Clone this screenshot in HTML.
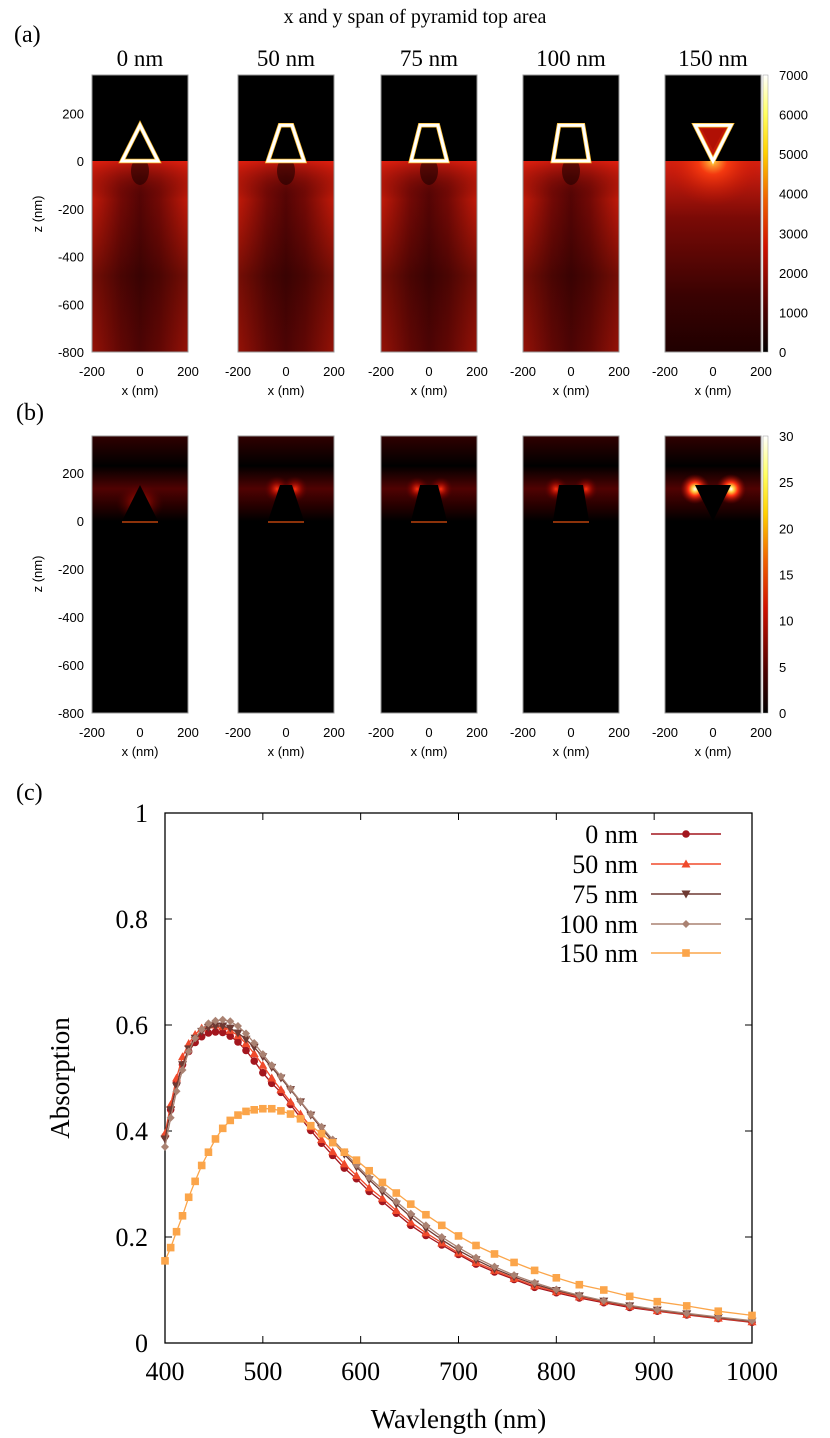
<!DOCTYPE html>
<html><head><meta charset="utf-8"><style>
html,body{margin:0;padding:0;background:#fff;}
svg{display:block;}
.serif{font-family:"Liberation Serif",serif;}
.sans{font-family:"Liberation Sans",sans-serif;}
</style></head><body>
<svg id="fig" width="830" height="1438" viewBox="0 0 830 1438" xmlns="http://www.w3.org/2000/svg">
<defs>
<linearGradient id="cbarA" x1="0" y1="1" x2="0" y2="0">
<stop offset="0" stop-color="#000"/><stop offset="0.15" stop-color="#4a0000"/><stop offset="0.38" stop-color="#d01000"/><stop offset="0.55" stop-color="#f06000"/><stop offset="0.72" stop-color="#ffd000"/><stop offset="0.86" stop-color="#ffff60"/><stop offset="1" stop-color="#fff"/>
</linearGradient>
<linearGradient id="subH" x1="0" y1="0" x2="1" y2="0">
<stop offset="0" stop-color="#d01c0a"/><stop offset="0.3" stop-color="#7a0a06"/><stop offset="0.5" stop-color="#580505"/><stop offset="0.7" stop-color="#7a0a06"/><stop offset="1" stop-color="#d01c0a"/>
</linearGradient>
<linearGradient id="subV" x1="0" y1="0" x2="0" y2="1">
<stop offset="0" stop-color="#e82010" stop-opacity="0.75"/><stop offset="0.2" stop-color="#300000" stop-opacity="0.1"/><stop offset="0.6" stop-color="#1a0000" stop-opacity="0.5"/><stop offset="1" stop-color="#3a0202" stop-opacity="0.4"/>
</linearGradient>
<linearGradient id="sub5" x1="0" y1="0" x2="0" y2="1">
<stop offset="0" stop-color="#d82010"/><stop offset="0.3" stop-color="#7a0a06"/><stop offset="0.7" stop-color="#3a0202"/><stop offset="1" stop-color="#200000"/>
</linearGradient>
<radialGradient id="glow5" cx="0.5" cy="0" r="0.5">
<stop offset="0" stop-color="#ffd040"/><stop offset="0.3" stop-color="#ff4010" stop-opacity="0.8"/><stop offset="1" stop-color="#c01000" stop-opacity="0"/>
</radialGradient>
<linearGradient id="airB" x1="0" y1="0" x2="0" y2="1">
<stop offset="0" stop-color="#300000"/><stop offset="0.35" stop-color="#000"/><stop offset="0.62" stop-color="#500202"/><stop offset="0.85" stop-color="#200000"/><stop offset="1" stop-color="#000"/>
</linearGradient>
<radialGradient id="spot" cx="0.5" cy="0.5" r="0.5">
<stop offset="0" stop-color="#ff3010"/><stop offset="0.5" stop-color="#a00800" stop-opacity="0.6"/><stop offset="1" stop-color="#500000" stop-opacity="0"/>
</radialGradient>
<radialGradient id="spotW" cx="0.5" cy="0.5" r="0.5">
<stop offset="0" stop-color="#fff"/><stop offset="0.2" stop-color="#ffd040"/><stop offset="0.45" stop-color="#ff3010"/><stop offset="1" stop-color="#800000" stop-opacity="0"/>
</radialGradient>
</defs>
<g id="heat"></g>
<g id="chart"></g>
</svg>
<script>
// ===== Panel (c) data =====
const wavelengths = [400,405.8,411.8,417.9,424.2,430.8,437.5,444.4,451.6,459,466.7,474.6,482.8,491.2,500,509.1,518.5,528.3,538.5,549,560,571.4,583.3,595.7,608.7,622.2,636.4,651.2,666.7,682.9,700,717.9,736.8,756.8,777.8,800,823.5,848.5,875,903.2,933.3,965.5,1000];
const series0 = [0.39,0.44,0.49,0.525,0.55,0.567,0.578,0.585,0.587,0.586,0.579,0.568,0.552,0.532,0.51,0.49,0.473,0.45,0.425,0.401,0.377,0.354,0.33,0.31,0.286,0.267,0.245,0.222,0.203,0.185,0.167,0.149,0.134,0.12,0.105,0.095,0.085,0.076,0.067,0.06,0.053,0.046,0.039];
const series50 = [0.395,0.45,0.5,0.54,0.565,0.582,0.594,0.6,0.6,0.597,0.59,0.58,0.565,0.546,0.524,0.5,0.478,0.455,0.432,0.408,0.384,0.361,0.338,0.316,0.293,0.273,0.25,0.228,0.208,0.189,0.17,0.152,0.137,0.122,0.108,0.097,0.087,0.078,0.069,0.061,0.054,0.047,0.04];
const series75 = [0.385,0.44,0.485,0.525,0.555,0.575,0.588,0.595,0.598,0.598,0.594,0.585,0.573,0.558,0.54,0.52,0.5,0.478,0.455,0.43,0.405,0.38,0.356,0.332,0.308,0.285,0.262,0.238,0.216,0.195,0.175,0.157,0.14,0.125,0.111,0.099,0.089,0.079,0.07,0.062,0.055,0.048,0.041];
const series100 = [0.37,0.425,0.475,0.515,0.55,0.575,0.592,0.603,0.608,0.61,0.607,0.598,0.584,0.566,0.545,0.524,0.503,0.48,0.456,0.432,0.408,0.384,0.36,0.336,0.312,0.29,0.267,0.244,0.222,0.2,0.18,0.161,0.144,0.128,0.114,0.101,0.09,0.08,0.071,0.063,0.056,0.049,0.042];
const series150 = [0.155,0.18,0.21,0.24,0.275,0.305,0.335,0.36,0.385,0.405,0.42,0.43,0.437,0.44,0.442,0.442,0.438,0.432,0.423,0.41,0.395,0.378,0.36,0.345,0.325,0.303,0.283,0.262,0.242,0.222,0.202,0.184,0.168,0.152,0.137,0.123,0.11,0.1,0.088,0.078,0.07,0.06,0.052];
const seriesNames = ["0 nm","50 nm","75 nm","100 nm","150 nm"];
const xTicks = [400,500,600,700,800,900,1000];
const yTicks = [0,0.2,0.4,0.6,0.8,1];
const yTickLabels = ["0","0.2","0.4","0.6","0.8","1"];
// ===== Panels (a)/(b) data =====
const spans = ["0 nm","50 nm","75 nm","100 nm","150 nm"];
const topHalfWidths = [0,25,37,50,75];
const zTicks = [200,0,-200,-400,-600,-800];
const xPanelTicks = [-200,0,200];
const cbarTicksA = [0,1000,2000,3000,4000,5000,6000,7000];
const cbarTicksB = [0,5,10,15,20,25,30];

const NS="http://www.w3.org/2000/svg";
function mk(tag,attrs,parent){const e=document.createElementNS(NS,tag);for(const k in attrs)e.setAttribute(k,attrs[k]);parent.appendChild(e);return e;}
const heat=document.getElementById('heat');
const chart=document.getElementById('chart');

let t=mk('text',{x:415,y:23,'text-anchor':'middle','font-size':20,class:'serif'},heat);t.textContent='x and y span of pyramid top area';

t=mk('text',{x:14,y:42,'font-size':24,class:'serif'},heat);t.textContent='(a)';

t=mk('text',{x:16,y:420,'font-size':24,class:'serif'},heat);t.textContent='(b)';

t=mk('text',{x:16,y:800,'font-size':24,class:'serif'},heat);t.textContent='(c)';


const panelX=[92,238,381,523,665];
const PW=96;
const rows=[{top:75,bot:352,iface:161,kind:'a'},{top:436,bot:713,iface:521,kind:'b'}];
const nmToPx=PW/400;

rows.forEach((row,ri)=>{
  const zScale=(row.bot-row.iface)/800;
  spans.forEach((s,i)=>{
    const x0=panelX[i],cx=x0+PW/2;
    const g=mk('g',{},heat);
    
    
    if(row.kind==='a'){
      mk('rect',{x:x0,y:row.top,width:PW,height:row.iface-row.top,fill:'#000'},g);
      if(i<4){
        mk('rect',{x:x0,y:row.iface,width:PW,height:row.bot-row.iface,fill:'url(#subH)'},g);
        mk('rect',{x:x0,y:row.iface,width:PW,height:row.bot-row.iface,fill:'url(#subV)'},g);
        mk('ellipse',{cx:cx,cy:row.iface+10,rx:9,ry:14,fill:'#200000',opacity:0.6},g);
      }else{
        mk('rect',{x:x0,y:row.iface,width:PW,height:row.bot-row.iface,fill:'url(#sub5)'},g);
        mk('rect',{x:x0,y:row.iface,width:PW,height:90,fill:'url(#glow5)'},g);
      }
    }else{
      mk('rect',{x:x0,y:row.top,width:PW,height:row.bot-row.top,fill:'#000'},g);
      mk('rect',{x:x0,y:row.top,width:PW,height:row.iface-row.top,fill:'url(#airB)'},g);
    }
    const h=150*zScale, bw=75*nmToPx, tw=topHalfWidths[i]*nmToPx;
    let pts;
    if(i<4) pts=[[cx-bw,row.iface],[cx+bw,row.iface],[cx+tw,row.iface-h],[cx-tw,row.iface-h]];
    else pts=[[cx-bw,row.iface-h],[cx+bw,row.iface-h],[cx,row.iface]];
    const ps=pts.map(p=>p.join(',')).join(' ');
    if(row.kind==='a'){
      mk('polygon',{points:ps,fill:i===4?'#c01808':'#000',stroke:'#ffc030','stroke-width':4.5,'stroke-linejoin':'miter'},g);
      mk('polygon',{points:ps,fill:'none',stroke:'#fff','stroke-width':3},g);
      if(i===4) mk('polygon',{points:[[cx-bw+7,row.iface-h+4],[cx+bw-7,row.iface-h+4],[cx,row.iface-11]].map(p=>p.join(',')).join(' '),fill:'#b01005'},g);
    }else{
      if(i>0){
        const strong=i===4;
        const r=strong?15:(i===1?13:12);
        mk('circle',{cx:cx-(i===4?bw:tw+3),cy:row.iface-h+4,r:r,fill:strong?'url(#spotW)':'url(#spot)'},g);
        mk('circle',{cx:cx+(i===4?bw:tw+3),cy:row.iface-h+4,r:r,fill:strong?'url(#spotW)':'url(#spot)'},g);
      }else{
        mk('ellipse',{cx:cx,cy:row.iface-18,rx:24,ry:20,fill:'url(#spot)',opacity:0.7},g);
      }
      mk('polygon',{points:ps,fill:'#000'},g);
      if(i<4) mk('line',{x1:cx-bw,y1:row.iface+1,x2:cx+bw,y2:row.iface+1,stroke:'#e05010','stroke-width':1.2},g);
    }
    mk('rect',{x:x0,y:row.top,width:PW,height:row.bot-row.top,fill:'none',stroke:'#999','stroke-width':1},g);
    xPanelTicks.forEach(v=>{
      const tx=x0+(v+200)*nmToPx;
      const tl=mk('text',{x:tx,y:row.bot+24,'text-anchor':'middle','font-size':13,class:'sans'},heat);
      tl.textContent=String(v);
      
      
    });
    const xl=mk('text',{x:cx,y:row.bot+43,'text-anchor':'middle','font-size':13,class:'sans'},heat);
    xl.textContent='x (nm)';
    
    
    if(row.kind==='a'){
      const st=mk('text',{x:cx,y:66,'text-anchor':'middle','font-size':23,class:'serif'},heat);
      st.textContent=s;
      
      
    }
  });
  zTicks.forEach(v=>{
    const y=row.iface-v*zScale;
    const tl=mk('text',{x:84,y:y+5,'text-anchor':'end','font-size':13,class:'sans'},heat);
    tl.textContent=String(v);
    
    
  });
  const zl=mk('text',{x:0,y:0,'text-anchor':'middle','font-size':13,class:'sans',transform:`translate(42,${row.iface+53}) rotate(-90)`},heat);
  zl.textContent='z (nm)';
  
  
  const cb=mk('rect',{x:763,y:row.top,width:5,height:row.bot-row.top,fill:'url(#cbarA)',stroke:'#999','stroke-width':0.5},heat);
  
  
  const ticks=row.kind==='a'?cbarTicksA:cbarTicksB;
  const maxv=ticks[ticks.length-1];
  ticks.forEach(v=>{
    const y=row.bot-(v/maxv)*(row.bot-row.top);
    const tl=mk('text',{x:779,y:y+5,'font-size':13,class:'sans'},heat);
    tl.textContent=String(v);
    
    
  });
});

// ===== Panel (c) chart =====
const PL=165,PR=752,PT=813,PB=1343;
const X0=400,X1=1000,Y0=0,Y1=1;
function sx(v){return PL+(v-X0)/(X1-X0)*(PR-PL);}
function sy(v){return PB-(v-Y0)/(Y1-Y0)*(PB-PT);}
const frame=mk('rect',{x:PL,y:PT,width:PR-PL,height:PB-PT,fill:'none',stroke:'#000','stroke-width':1.3},chart);


xTicks.forEach(v=>{
  const x=sx(v);
  mk('line',{x1:x,y1:PB,x2:x,y2:PB-7,stroke:'#000'},chart);
  mk('line',{x1:x,y1:PT,x2:x,y2:PT+7,stroke:'#000'},chart);
  const tl=mk('text',{x:x,y:PB+37,'text-anchor':'middle','font-size':26,class:'serif'},chart);
  tl.textContent=String(v);
  
  
});
yTicks.forEach((v,i)=>{
  const y=sy(v);
  mk('line',{x1:PL,y1:y,x2:PL+7,y2:y,stroke:'#000'},chart);
  mk('line',{x1:PR,y1:y,x2:PR-7,y2:y,stroke:'#000'},chart);
  const tl=mk('text',{x:148,y:y+9,'text-anchor':'end','font-size':26,class:'serif'},chart);
  tl.textContent=yTickLabels[i];
  
  
});
let at=mk('text',{x:(PL+PR)/2,y:1428,'text-anchor':'middle','font-size':27,class:'serif'},chart);
at.textContent='Wavlength (nm)';


at=mk('text',{x:0,y:0,'text-anchor':'middle','font-size':27,class:'serif',transform:`translate(69,1078) rotate(-90)`},chart);
at.textContent='Absorption';



const allSeries=[series0,series50,series75,series100,series150];
const colors=['#a3161e','#f04a2c','#6e3a33','#aa8272','#fba54a'];
const markers=['circle','tri','tridown','diamond','square'];
function marker(type,x,y,c,parent){
  let e;
  if(type==='circle') e=mk('circle',{cx:x,cy:y,r:3.8,fill:c},parent);
  else if(type==='tri') e=mk('polygon',{points:`${x},${y-4.5} ${x+4.5},${y+3.5} ${x-4.5},${y+3.5}`,fill:c},parent);
  else if(type==='tridown') e=mk('polygon',{points:`${x},${y+4.5} ${x+4.5},${y-3.5} ${x-4.5},${y-3.5}`,fill:c},parent);
  else if(type==='diamond') e=mk('polygon',{points:`${x},${y-4} ${x+4},${y} ${x},${y+4} ${x-4},${y}`,fill:c},parent);
  else e=mk('rect',{x:x-3.8,y:y-3.8,width:7.6,height:7.6,fill:c},parent);
  return e;
}
allSeries.forEach((vals,si)=>{
  const g=mk('g',{},chart);
  
  
  const d=vals.map((v,i)=>(i?'L':'M')+sx(wavelengths[i]).toFixed(1)+','+sy(v).toFixed(1)).join(' ');
  mk('path',{d:d,fill:'none',stroke:colors[si],'stroke-width':1.3},g);
  vals.forEach((v,i)=>{
    const m=marker(markers[si],sx(wavelengths[i]),sy(v),colors[si],g);
    
    
  });
});
const legY=[834,864,894,924,953];
seriesNames.forEach((n,i)=>{
  const g=mk('g',{},chart);
  
  
  const tl=mk('text',{x:638,y:legY[i]+9,'text-anchor':'end','font-size':26,class:'serif'},g);
  tl.textContent=n;
  mk('line',{x1:651,y1:legY[i],x2:721,y2:legY[i],stroke:colors[i],'stroke-width':1.5},g);
  marker(markers[i],686,legY[i],colors[i],g);
});
</script>
</body></html>
